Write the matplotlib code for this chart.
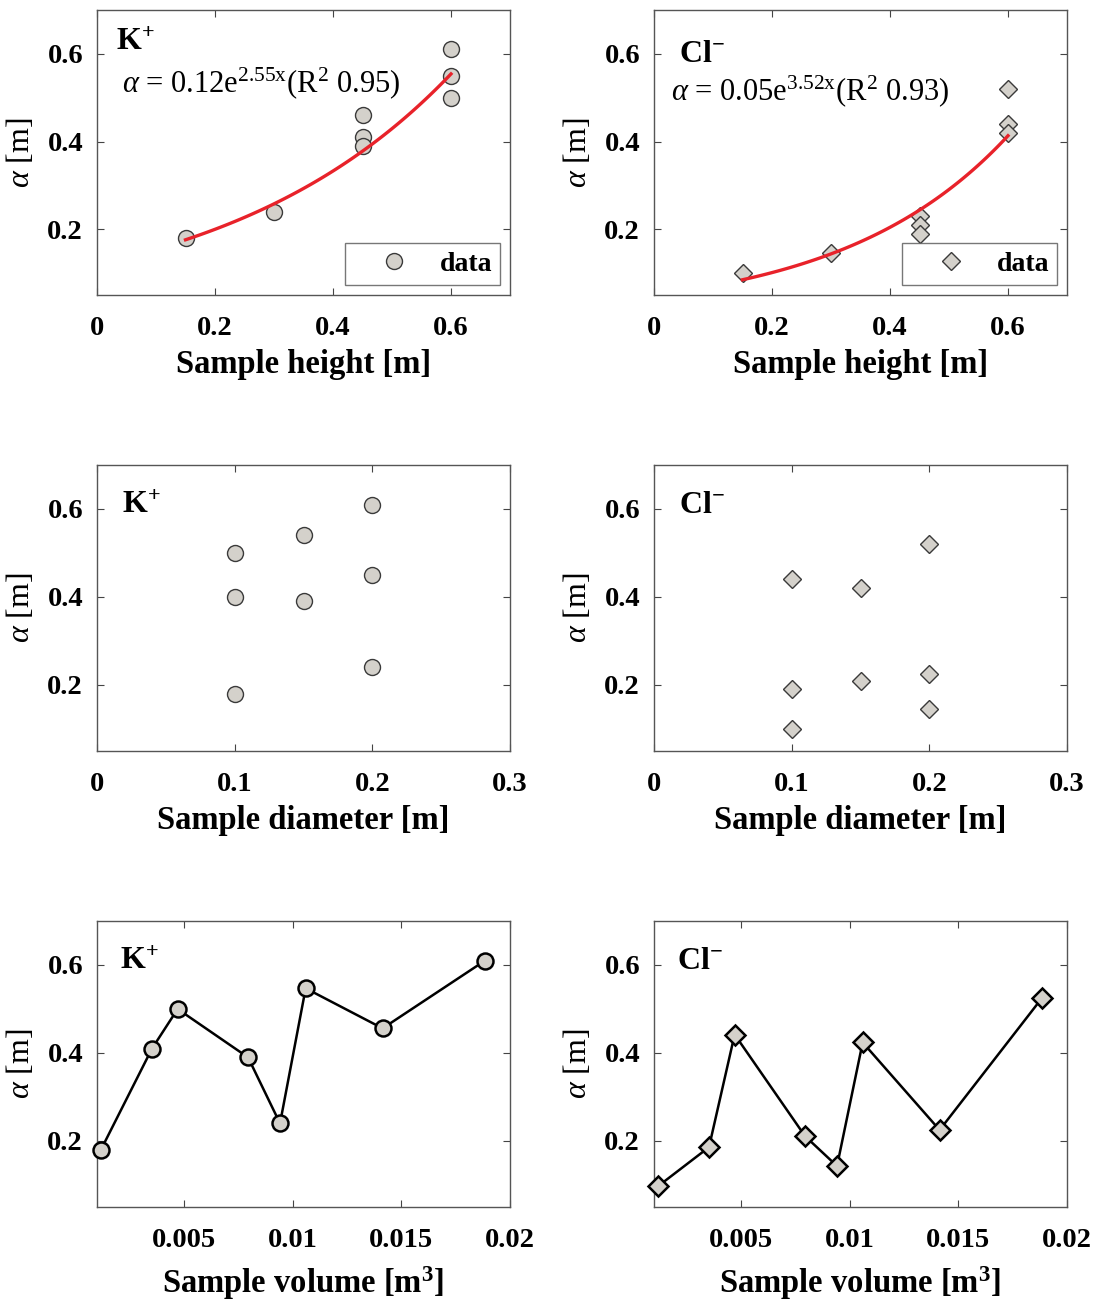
import numpy as np
import matplotlib
matplotlib.use("Agg")
import matplotlib.pyplot as plt

plt.rcParams['font.family'] = ['Liberation Serif', 'DejaVu Serif']
plt.rcParams['mathtext.fontset'] = 'custom'
plt.rcParams['mathtext.rm'] = 'Liberation Serif'
plt.rcParams['mathtext.it'] = 'Liberation Serif:italic'
plt.rcParams['mathtext.bf'] = 'Liberation Serif:bold'

# Sample height series
height = [0.15, 0.30, 0.45, 0.45, 0.45, 0.60, 0.60, 0.60]
k_alpha_h = [0.18, 0.24, 0.46, 0.41, 0.39, 0.61, 0.55, 0.50]
cl_alpha_h = [0.10, 0.145, 0.23, 0.21, 0.19, 0.52, 0.44, 0.42]

# Exponential fits alpha = a * exp(b * x), with R^2
k_fit = (0.12, 2.55, 0.95)
cl_fit = (0.05, 3.52, 0.93)

# Sample diameter series
diameter_k = [0.10, 0.10, 0.10, 0.15, 0.15, 0.20, 0.20, 0.20]
k_alpha_d = [0.50, 0.40, 0.18, 0.54, 0.39, 0.61, 0.45, 0.24]
diameter_cl = [0.10, 0.10, 0.10, 0.15, 0.15, 0.20, 0.20, 0.20]
cl_alpha_d = [0.44, 0.19, 0.10, 0.42, 0.21, 0.52, 0.225, 0.145]

# Sample volume series
volume = [0.00118, 0.00353, 0.00471, 0.00795, 0.00942, 0.0106, 0.01414, 0.01885]
k_alpha_v = [0.18, 0.41, 0.50, 0.39, 0.24, 0.547, 0.456, 0.61]
cl_alpha_v = [0.097, 0.186, 0.442, 0.211, 0.143, 0.424, 0.225, 0.525]

y_ticks = [0.2, 0.4, 0.6]
h_ticks = [0, 0.2, 0.4, 0.6]
d_ticks = [0, 0.1, 0.2, 0.3]
v_ticks = [0.005, 0.01, 0.015, 0.02]

FACE = '#d4d1cb'
EDGE_LIGHT = '#3a3a3a'
W, H = 1094, 1307

fig = plt.figure(figsize=(W / 100, H / 100), dpi=100)

cols = [97, 654]
rows = [(10, 295), (465, 751), (921, 1207)]
axw = 413


def make_ax(col, row):
    x0 = cols[col]
    top, bot = rows[row]
    ax = fig.add_axes([x0 / W, 1 - bot / H, axw / W, (bot - top) / H])
    ax.tick_params(direction='in', top=True, right=True, length=5, width=0.8,
                   color='#444444', labelsize=20.5)
    ax.tick_params(axis='x', pad=15)
    ax.tick_params(axis='y', pad=10)
    for s in ax.spines.values():
        s.set_color('#555555')
        s.set_linewidth(1.0)
    ax.set_ylim(0.05, 0.7)
    ax.set_yticks(y_ticks)
    ax.set_yticklabels([f'{t:g}' for t in y_ticks], fontweight='bold')
    ax.set_ylabel(r'$\alpha$ [m]', fontsize=23, labelpad=8)
    return ax


def fmt(ticks):
    return [f'{t:g}' for t in ticks]


# Row 1: sample height with exponential fits
for col, (alpha, fit, marker) in enumerate([
        (k_alpha_h, k_fit, 'o'),
        (cl_alpha_h, cl_fit, 'D')]):
    ax = make_ax(col, 0)
    ms = 11.5 if marker == 'o' else 9.5
    ax.plot(height, alpha, linestyle='none', marker=marker, ms=ms,
            mfc=FACE, mec=EDGE_LIGHT, mew=1.0, label='data', zorder=2)
    a, b, r2 = fit
    xf = np.linspace(0.15, 0.6, 100)
    ax.plot(xf, a * np.exp(b * xf), color='#e8222a', lw=2.4, zorder=3)
    ax.set_xlim(0, 0.7)
    ax.set_xticks(h_ticks)
    ax.set_xticklabels(fmt(h_ticks), fontweight='bold')
    ax.set_xlabel('Sample height [m]', fontsize=23.5, fontweight='bold', labelpad=6)
    eq = r'$\alpha$ = %.2fe$^{%.2f\mathrm{x}}$(R$^2$ %.2f)' % (a, b, r2)
    if col == 0:
        ax.text(0.045, 0.885, r'$\mathbf{K}^{\mathbf{+}}$', transform=ax.transAxes,
                fontsize=23, va='center')
        ax.text(0.06, 0.745, eq, transform=ax.transAxes, fontsize=22, va='center')
    else:
        ax.text(0.06, 0.845, r'$\mathbf{Cl}^{\mathbf{-}}$', transform=ax.transAxes,
                fontsize=23, va='center')
        ax.text(0.04, 0.715, eq, transform=ax.transAxes, fontsize=22, va='center')
    leg = ax.legend(loc='lower right', frameon=True, fancybox=False,
                    handlelength=2.9, borderpad=0.3, handletextpad=0.2,
                    borderaxespad=0.35, prop={'weight': 'bold', 'size': 20})
    leg.get_frame().set_edgecolor('#555555')
    leg.get_frame().set_linewidth(1.0)

# Row 2: sample diameter
for col, (xd, alpha, marker, ion) in enumerate([
        (diameter_k, k_alpha_d, 'o', r'$\mathbf{K}^{\mathbf{+}}$'),
        (diameter_cl, cl_alpha_d, 'D', r'$\mathbf{Cl}^{\mathbf{-}}$')]):
    ax = make_ax(col, 1)
    ms = 11.5 if marker == 'o' else 9.5
    ax.plot(xd, alpha, linestyle='none', marker=marker, ms=ms,
            mfc=FACE, mec=EDGE_LIGHT, mew=1.0)
    ax.set_xlim(0, 0.3)
    ax.set_xticks(d_ticks)
    ax.set_xticklabels(fmt(d_ticks), fontweight='bold')
    ax.set_xlabel('Sample diameter [m]', fontsize=23.5, fontweight='bold', labelpad=6)
    ax.text(0.06, 0.86, ion, transform=ax.transAxes, fontsize=23, va='center')

# Row 3: sample volume
for col, (alpha, marker, ion) in enumerate([
        (k_alpha_v, 'o', r'$\mathbf{K}^{\mathbf{+}}$'),
        (cl_alpha_v, 'D', r'$\mathbf{Cl}^{\mathbf{-}}$')]):
    ax = make_ax(col, 2)
    ms = 11.5 if marker == 'o' else 10.5
    ax.plot(volume, alpha, color='black', lw=1.8, marker=marker, ms=ms,
            mfc=FACE, mec='black', mew=1.8, clip_on=False, zorder=3)
    ax.set_xlim(0.001, 0.02)
    ax.set_xticks(v_ticks)
    ax.set_xticklabels(fmt(v_ticks), fontweight='bold')
    ax.set_xlabel(r'Sample volume [m$^{\mathbf{3}}$]', fontsize=23.5, fontweight='bold',
                  labelpad=8)
    ax.text(0.055, 0.86, ion, transform=ax.transAxes, fontsize=23, va='center')

fig.savefig('out.png', dpi=100, facecolor='white')
